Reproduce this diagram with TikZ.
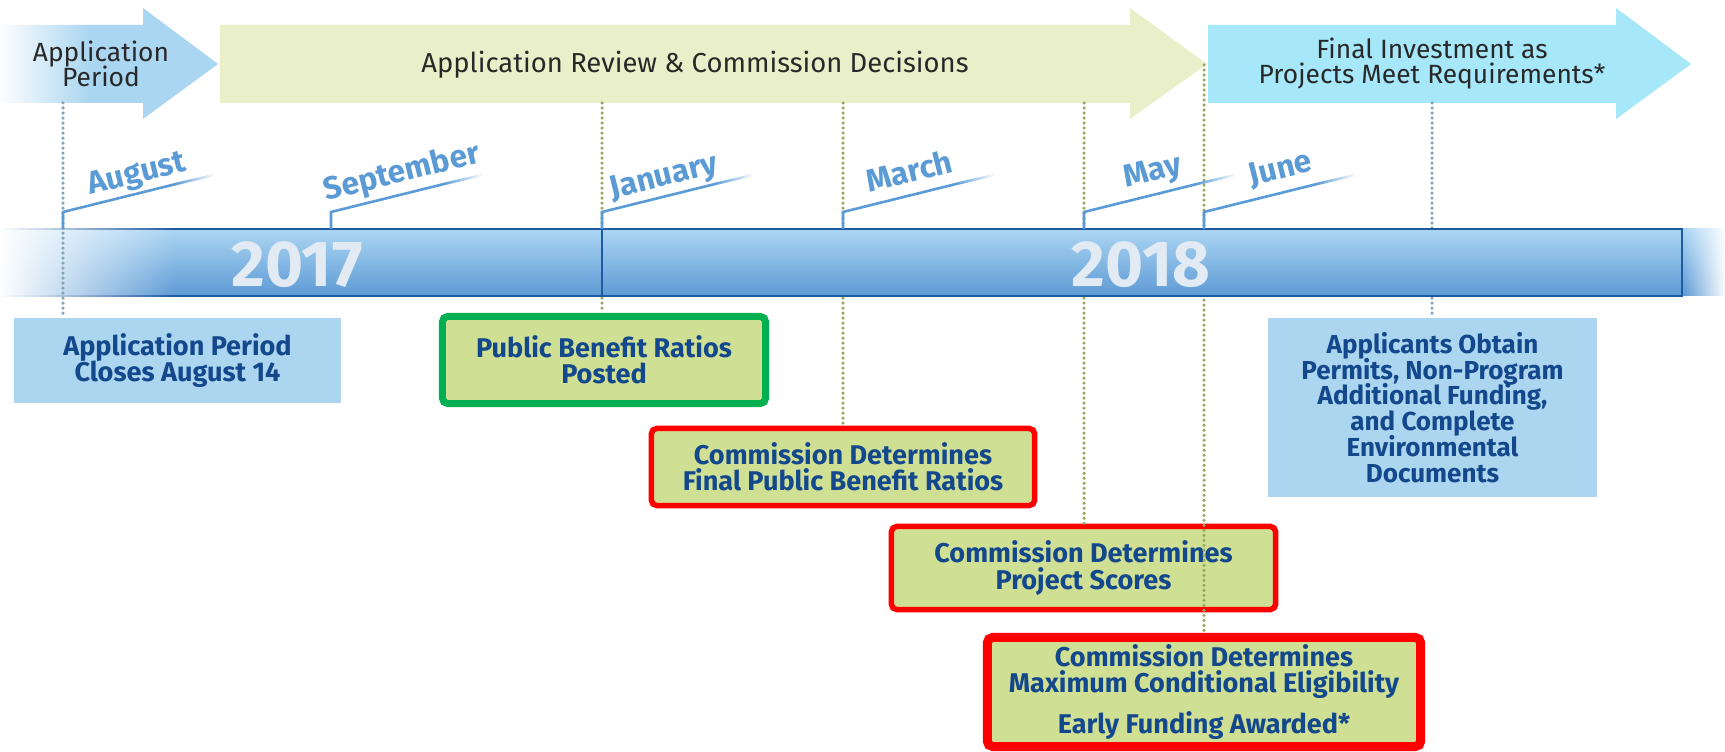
\documentclass[tikz,border=0pt]{standalone}
\usepackage{fontspec}
\setmainfont{Fira Sans}
\usetikzlibrary{fadings}
\lineskiplimit=-10pt

\definecolor{skyarrow}{RGB}{170,214,241}
\definecolor{cyanarrow}{RGB}{166,232,249}
\definecolor{palegreen}{RGB}{233,240,201}
\definecolor{boxblue}{RGB}{172,214,240}
\definecolor{boxgreen}{RGB}{207,223,148}
\definecolor{edgegreen}{RGB}{0,176,80}
\definecolor{edgered}{RGB}{255,0,0}
\definecolor{navytext}{RGB}{20,72,140}
\definecolor{phasetextcol}{RGB}{40,40,40}
\definecolor{monthblue}{RGB}{91,155,213}
\definecolor{bartop}{RGB}{172,214,243}
\definecolor{barbottom}{RGB}{93,154,213}
\definecolor{barline}{RGB}{30,90,160}
\definecolor{yeargray}{RGB}{226,234,243}
\definecolor{dotblue}{RGB}{128,165,185}
\definecolor{dotolive}{RGB}{150,170,95}

\tikzfading[name=fadetoright, left color=transparent!0, right color=transparent!100]
\tikzfading[name=fadetoleft, left color=transparent!100, right color=transparent!0]

\tikzset{
  phasetext/.style={text=phasetextcol, align=center, inner sep=0pt, font=\fontsize{7.5}{7.1}\selectfont},
  infobox/.style={fill=boxblue, text=navytext, align=center, inner sep=0pt, font=\bfseries\fontsize{7.7}{7.4}\selectfont},
  greenbox/.style={infobox, fill=boxgreen, draw=edgegreen, line width=0.07cm, rounded corners=1.5pt},
  redbox/.style={greenbox, draw=edgered, line width=0.055cm},
  monthtick/.style={monthblue, line width=0.026cm},
  monthlabel/.style={text=monthblue, anchor=base west, rotate=14, inner sep=0pt, font=\bfseries\fontsize{9}{9}\selectfont},
  yearlabel/.style={text=yeargray, inner sep=0pt, font=\bfseries\fontsize{18.5}{18.5}\selectfont},
  bluedots/.style={dotblue, line width=0.035cm, line cap=round, dash pattern=on 0pt off 0.05cm},
  olivedots/.style={bluedots, dotolive}
}

\begin{document}
\begin{tikzpicture}[x=0.01cm, y=-0.01cm]
	\useasboundingbox (0,0) rectangle (1725,752);
	\fill[white] (0,0) rectangle (1725,752);
	% phase arrows
	\fill[skyarrow] (0,25) -- (143,25) -- (143,8) -- (218,64) -- (143,119) -- (143,103) -- (0,103) -- cycle;
	\fill[white, path fading=fadetoright] (-1,20) rectangle (90,110);
	\fill[palegreen] (220,25) -- (1130,25) -- (1130,8) -- (1207,64) -- (1130,119) -- (1130,103) -- (220,103) -- cycle;
	\fill[cyanarrow] (1208,25) -- (1616,25) -- (1616,8) -- (1691,64) -- (1616,119) -- (1616,103) -- (1208,103) -- cycle;
	\node[phasetext] (applabel)    at (101,64)  {Application\\Period};
	\node[phasetext, font=\fontsize{7.8}{7.1}\selectfont] (reviewlabel) at (695,65)  {Application Review \& Commission Decisions};
	\node[phasetext] (finallabel)  at (1432,64) {Final Investment as\\Projects Meet Requirements*};
	%
	% milestone boxes
	\node[infobox, minimum width=3.27cm, minimum height=0.85cm] (closes) at (177.5,360.5) {Application Period\\Closes August 14};
	\node[greenbox, minimum width=3.23cm, minimum height=0.87cm] (posted) at (604,360) {Public Benefit Ratios\\Posted};
	\node[redbox, minimum width=3.83cm, minimum height=0.77cm] (finalratios) at (843,467) {Commission Determines\\Final Public Benefit Ratios};
	\node[redbox, minimum width=3.84cm, minimum height=0.83cm] (scores) at (1083.5,568) {Commission Determines\\Project Scores};
	\node[redbox, line width=0.09cm, minimum width=4.33cm, minimum height=1.09cm] (eligibility) at (1204,692) {Commission Determines\\Maximum Conditional Eligibility\\[4.3pt]Early Funding Awarded*};
	\node[infobox, font=\bfseries\fontsize{7.4}{7.3}\selectfont, minimum width=3.29cm, minimum height=1.79cm] (permits) at (1432.5,407.5) {Applicants Obtain\\Permits, Non-Program\\Additional Funding,\\and Complete\\Environmental\\Documents};
	%
	\coordinate (dropaug)   at (63,103);
	\coordinate (dropjan)   at (602,103);
	\coordinate (dropmar)   at (843,103);
	\coordinate (dropmay)   at (1084,103);
	\coordinate (dropjun)   at (1204,65);
	\coordinate (dropfinal) at (1432,103);
	\foreach \u\v\dotstyle in {dropjan/posted/olivedots, dropmar/finalratios/olivedots, dropmay/scores/olivedots, dropjun/eligibility/olivedots, dropfinal/permits/bluedots}
	{	\draw[\dotstyle] (\u) -- (\u |- \v.north);
	}
	%
	% time bar
	\shade[top color=bartop, bottom color=barbottom] (0,229) rectangle (1725,296);
	\draw[barline, line width=0.025cm] (0,229) -- (1682,229) -- (1682,296) -- (0,296);
	\draw[barline, line width=0.025cm] (602,229) -- (602,296);
	\fill[white, path fading=fadetoright] (-1,226) rectangle (175,299);
	\fill[white, path fading=fadetoleft] (1684,226) rectangle (1726,299);
	\draw[bluedots] (dropaug) -- (dropaug |- closes.north);
	\node[yearlabel] (y2017) at (297,265) {2017};
	\node[yearlabel] (y2018) at (1141,265) {2018};
	%
	\def\months {63/90/195/August, 331/326/201/September, 602/612/199/January, 843/869/193/March, 1084/1126/188/May, 1204/1251/186/June}  % tick, label x, label y
	\foreach \mx/\lx/\ly/\mname in \months
	{	\coordinate (tick\mname) at (\mx,212);
		\draw[monthtick] (\mx,229) -- (tick\mname) -- ++(113,-28) coordinate (bend\mname);
		\draw[monthtick, path fading=fadetoright] (bend\mname) -- ++(38,-9);
		\node[monthlabel] (\mname) at (\lx,\ly) {\mname};
	}
\end{tikzpicture}
\end{document}
